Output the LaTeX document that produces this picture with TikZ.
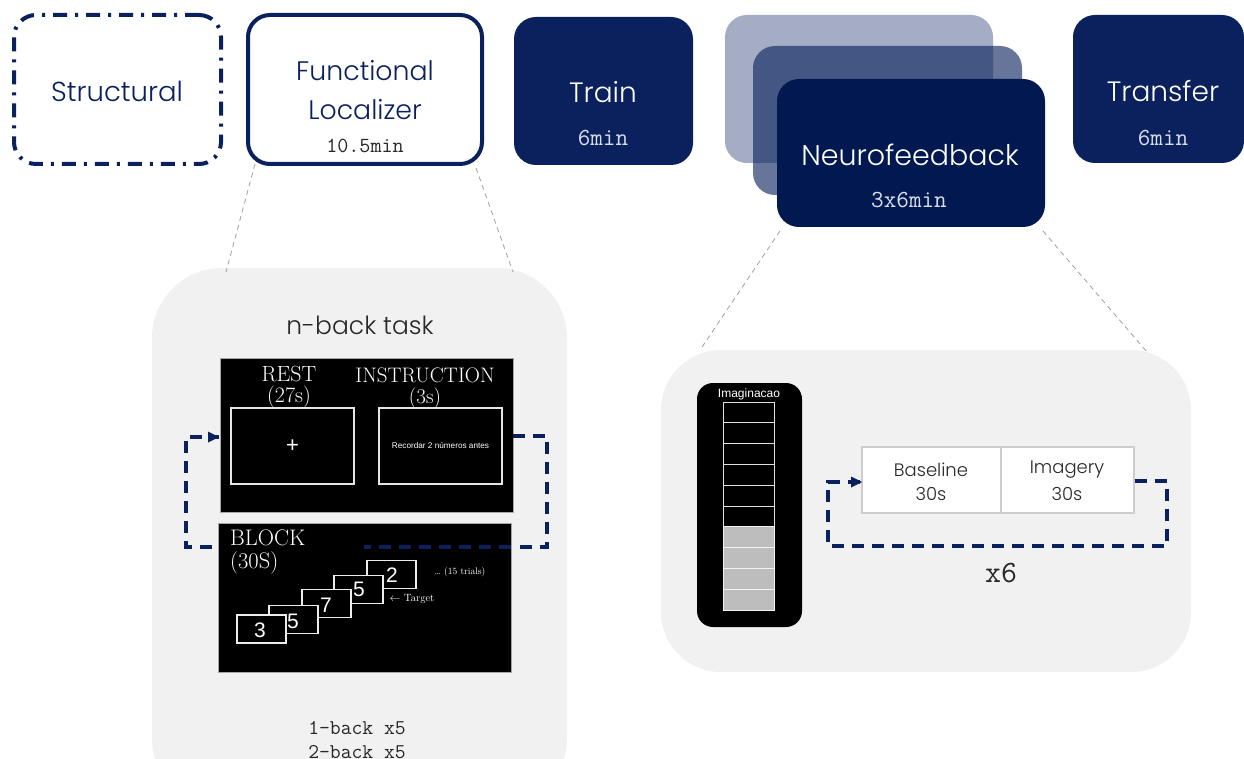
\documentclass[tikz,border=0pt]{standalone}
\usepackage{fontspec}
\newfontfamily\qs{Poppins Light}
\newfontfamily\ar{Liberation Sans}
\usetikzlibrary{arrows.meta}
\definecolor{navy}{RGB}{10,33,94}
\definecolor{navyD}{RGB}{2,24,80}
\definecolor{panelgray}{RGB}{241,241,241}
\definecolor{inkgray}{RGB}{40,40,40}
\definecolor{edgegray}{RGB}{205,205,205}
\definecolor{guidegray}{RGB}{160,160,160}
\tikzset{
  qs/.style={font=\qs\fontsize{#1}{#1}\selectfont, inner sep=0pt},
  slab/.style={font=\ttfamily\fontsize{#1}{#1}\selectfont, inner sep=0pt},
  serifw/.style={font=\rmfamily\fontsize{#1}{#1}\selectfont, inner sep=0pt, text=white},
  arw/.style={font=\ar\fontsize{#1}{#1}\selectfont, inner sep=0pt, text=white},
  stagebox/.style={inner sep=0pt, outer sep=0pt, rounded corners=22pt},
  guide/.style={draw=guidegray, line width=0.8pt, dash pattern=on 5pt off 4pt},
  looppath/.style={draw=navy, line width=3.2pt, dash pattern=on 12pt off 8pt},
  screen/.style={fill=black, draw=gray!70, line width=0.8pt, inner sep=0pt},
  wbox/.style={draw=white!80!gray, line width=1.2pt, inner sep=0pt},
  card/.style={fill=black, draw=white!85!gray, line width=1.1pt, minimum width=49pt, minimum height=28pt, inner sep=0pt},
  cell/.style={line width=1pt},
}
\begin{document}
\begin{tikzpicture}[x=1pt,y=-1pt]
\useasboundingbox (0,0) rectangle (1244,759);
\clip (0,0) rectangle (1244,759);
\fill[white] (0,0) rectangle (1244,759);

% ---------- lower panels ----------
\node[fill=panelgray, rounded corners=70pt, minimum width=415pt, minimum height=540pt, inner sep=0pt] (nbpanel) at (359.5,538) {};
\node[fill=panelgray, rounded corners=60pt, minimum width=530pt, minimum height=322pt, inner sep=0pt] (nfpanel) at (926,511) {};

% ---------- top stage boxes ----------
\node[stagebox, draw=navy, line width=4pt, dash pattern=on 14pt off 8pt on 3pt off 8pt, minimum width=207pt, minimum height=149pt] (struct) at (117.5,89.5) {};
\node[qs=27.5, text=navy] (structT) at (117,91) {Structural};

\node[stagebox, draw=navy, fill=white, line width=4pt, minimum width=234pt, minimum height=149pt] (floc) at (365,89.5) {};
\node[qs=26.8, text=navy] (flocT1) at (365,71) {Functional};
\node[qs=26.8, text=navy] (flocT2) at (365,110) {Localizer};
\node[slab=21.5, text=inkgray] (flocT3) at (365,146) {10.5min};

\node[stagebox, fill=navy, minimum width=179pt, minimum height=148pt] (train) at (603.5,91) {};
\node[qs=28, text=white] (trainT) at (603,92) {Train};
\node[slab=24.5, text=white!85!navy] (trainT2) at (603,138) {6min};

\node[stagebox, fill=navy, fill opacity=0.37, minimum width=268pt, minimum height=148pt] (nfback) at (859,89) {};
\node[stagebox, fill=navy, fill opacity=0.62, minimum width=269pt, minimum height=149pt] (nfmid) at (887.5,120.5) {};
\node[stagebox, fill=navyD, minimum width=268pt, minimum height=148pt] (nf) at (911,153) {};
\node[qs=28.5, text=white] (nfT) at (910,155) {Neurofeedback};
\node[slab=24.5, text=white!85!navy] (nfT2) at (909,200) {3x6min};

\node[stagebox, fill=navy, minimum width=171pt, minimum height=148pt] (transfer) at (1158.5,89) {};
\node[qs=28, text=white] (transT) at (1163,91) {Transfer};
\node[slab=24.5, text=white!85!navy] (transT2) at (1163,138) {6min};

% ---------- guide lines ----------
\coordinate (g1) at (226,272);
\coordinate (g2) at (513,272);
\coordinate (g3) at (700,350);
\coordinate (g4) at (1147,352);
\draw[guide] ([xshift=7pt]floc.south west) -- (g1);
\draw[guide] ([xshift=-6pt,yshift=-4pt]floc.south east) -- (g2);
\draw[guide] ([xshift=3pt,yshift=-4pt]nf.south west) -- (g3);
\draw[guide] ([xshift=-2pt,yshift=-4pt]nf.south east) -- (g4);

% ---------- n-back panel ----------
\node[qs=25, text=inkgray] (nbtitle) at (360,325) {n-back task};

\node[screen, minimum width=293pt, minimum height=154pt] (scrA) at (366.5,435) {};
\coordinate (lA1) at (547,436);
\coordinate (lA2) at (547,547);
\coordinate (lA3) at (186,547);
\coordinate (lA4) at (186,437);
\coordinate (lA5) at (219,437);
\draw[looppath] (scrA.east |- lA1) -- (lA1) -- (lA2) -- (lA3) -- (lA4) -- (lA5);
\fill[navy] (lA5) -- ++(-11,-5.5) -- ++(0,11) -- cycle;

\node[screen, minimum width=293pt, minimum height=149pt] (scrB) at (364.5,597.5) {};
\coordinate (lB1) at (364,547);
\draw[looppath] (scrB.east |- lA2) -- (lB1);

\node[serifw=22] (restT) at (289,374) {REST};
\node[serifw=22] (restT2) at (289,397) {(27s)};
\node[serifw=21] (instrT) at (425,375) {INSTRUCTION};
\node[serifw=21] (instrT2) at (425,398) {(3s)};
\node[wbox, minimum width=123pt, minimum height=76pt] (restbox) at (292.5,446) {};
\node[arw=22] (plus) at (292.5,446) {+};
\node[wbox, minimum width=123pt, minimum height=76pt] (instrbox) at (440.5,446) {};
\node[arw=8.2] (instrtxt) at (440.5,446) {Recordar 2 números antes};

\node[serifw=22.5, anchor=west] (blockT) at (230,538) {BLOCK};
\node[serifw=22.5, anchor=west] (blockT2) at (230,563) {(30S)};

\node[card] (c5) at (391.5,574.5) {};
\node[card] (c4) at (358.5,589.5) {};
\node[card] (c3) at (326.5,603.5) {};
\node[card] (c2) at (293.5,619.5) {};
\node[card] (c1) at (261.5,629) {};
\node[arw=21] (n1) at (260,630.5) {3};
\node[arw=21] (n2) at (293,621) {5};
\node[arw=21] (n3) at (326,605) {7};
\node[arw=21] (n4) at (359,589.5) {5};
\node[arw=21] (n5) at (392,575) {2};
\node[serifw=9.5] (trials) at (460,572) {\dots\ (15 trials)};
\node[serifw=10.5] (target) at (412,599) {$\leftarrow$ Target};

\node[slab=21, text=inkgray] (nb1) at (357,728) {1-back x5};
\node[slab=21, text=inkgray] (nb2) at (357,752) {2-back x5};

% ---------- neurofeedback panel ----------
\node[fill=black, rounded corners=16pt, minimum width=105pt, minimum height=244pt, inner sep=0pt] (imag) at (749.5,505) {};
\node[arw=12] (imagT) at (749,394) {Imaginacao};
\foreach \i in {0,...,5} {
  \draw[cell, draw=white!75!gray, fill=black] (723.5,402+\i*20.8) rectangle (774,402+\i*20.8+20.8);
}
\foreach \i in {6,...,9} {
  \draw[cell, draw=white!90!gray, fill=white!74!black] (723.5,402+\i*20.8) rectangle (774,402+\i*20.8+20.8);
}

\node[fill=white, draw=edgegray, line width=1.2pt, minimum width=139pt, minimum height=66pt, inner sep=0pt] (bl) at (931.5,480) {};
\node[fill=white, draw=edgegray, line width=1.2pt, minimum width=133pt, minimum height=66pt, inner sep=0pt] (im) at (1067.5,480) {};
\node[qs=18, text=inkgray] (blT) at (931,470) {Baseline};
\node[qs=18, text=inkgray] (blT2) at (931,494) {30s};
\node[qs=18, text=inkgray] (imT) at (1067,470) {Imagery};
\node[qs=18, text=inkgray] (imT2) at (1067,494) {30s};

\coordinate (lC1) at (1167,481);
\coordinate (lC2) at (1167,546);
\coordinate (lC3) at (828,546);
\coordinate (lC4) at (828,482);
\coordinate (lC5) at (862,482);
\draw[looppath] (im.east |- lC1) -- (lC1) -- (lC2) -- (lC3) -- (lC4) -- (lC5);
\fill[navy] (lC5) -- ++(-11,-5.5) -- ++(0,11) -- cycle;
\node[slab=31, text=inkgray] (x6) at (1001,573) {x6};
\end{tikzpicture}
\end{document}
